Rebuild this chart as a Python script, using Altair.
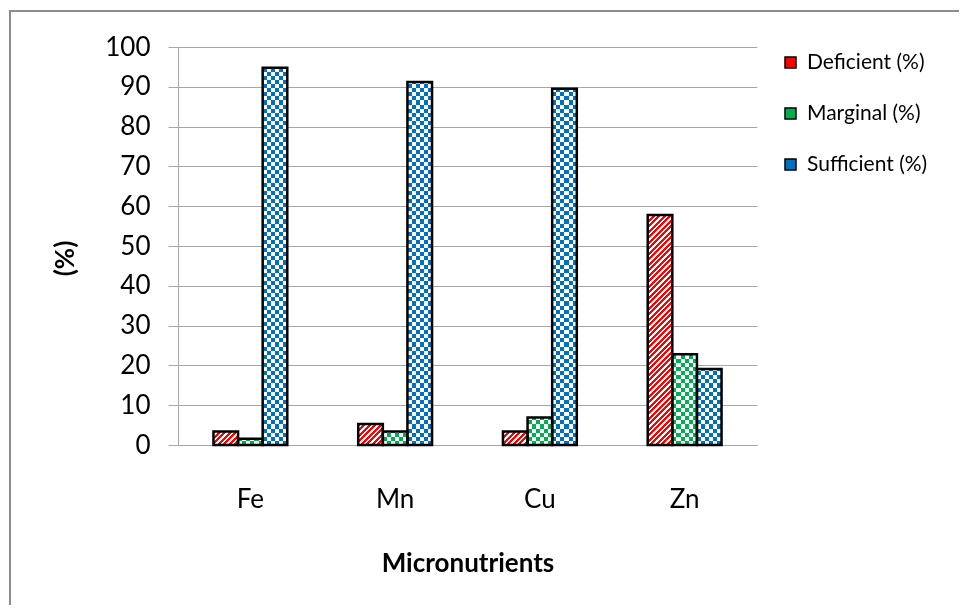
import math
import altair as alt
import pandas as pd

# ---------------- data ----------------
categories = ["Fe", "Mn", "Cu", "Zn"]
series = ["Deficient (%)", "Marginal (%)", "Sufficient (%)"]
deficient = [3.4, 5.3, 3.4, 57.8]
marginal = [1.6, 3.4, 6.9, 22.8]
sufficient = [94.8, 91.2, 89.5, 19.1]
y_ticks = list(range(0, 101, 10))

series_values = dict(zip(series, [deficient, marginal, sufficient]))
df = pd.DataFrame([
    {"nutrient": c, "status": s, "value": series_values[s][i]}
    for i, c in enumerate(categories) for s in series
])

# ---------------- styling ----------------
PLOT_W, PLOT_H = 579, 398
PAD_INNER = 0.49
BAR_W = PLOT_W / len(categories) * (1 - PAD_INNER) / len(series)
Y_MAX = 100
RED, GREEN, BLUE = "#FF0000", "#00B050", "#0070C0"
SERIES_COLORS = dict(zip(series, [RED, GREEN, BLUE]))
FONT = "Lato"
GRID = "#A6A6A6"


def inv(hexc):
    r, g, b = int(hexc[1:3], 16), int(hexc[3:5], 16), int(hexc[5:7], 16)
    return "#%02X%02X%02X" % (255 - r, 255 - g, 255 - b)


def band_stops(edges, colors):
    stops = []
    for k in range(len(edges) - 1):
        c = colors[k % 2]
        stops.append({"offset": edges[k], "color": c})
        stops.append({"offset": edges[k + 1], "color": c})
    return stops


CELL = BAR_W / 6.0


def grad_vertical_stripes(k_color):
    edges = [i / 6.0 for i in range(7)]
    return {"gradient": "linear", "x1": 0, "y1": 0, "x2": 1, "y2": 0,
            "stops": band_stops(edges, ["black", k_color])}


def grad_horizontal_stripes(k_color, h):
    n = max(1, math.ceil(h / CELL))
    edges = [min(1.0, j * CELL / h) for j in range(n + 1)]
    return {"gradient": "linear", "x1": 0, "y1": 1, "x2": 0, "y2": 0,
            "stops": band_stops(edges, ["black", k_color])}


def grad_diag(h, red_w=3.0, white_w=2.5):
    # "/" stripes drawn with a linear gradient in bounding-box units
    w = BAR_W
    s = max(1.0, w * (w + h) / (w * w + h * h))
    k = w / (s * (w * w + h * h))
    edges = [0.0]
    d = 0.0
    m = 0
    while d < w + h:
        d += red_w if m % 2 == 0 else white_w
        edges.append(min(1.0, d * k))
        m += 1
    return {"gradient": "linear", "x1": 0, "y1": 0, "x2": s, "y2": s * h / w,
            "stops": band_stops(edges, [RED, "#FFFFFF"])}


# ---------------- encodings ----------------
x_enc = alt.X(
    "nutrient:N", sort=categories, title="Micronutrients",
    scale=alt.Scale(paddingInner=PAD_INNER, paddingOuter=PAD_INNER / 2),
    axis=alt.Axis(labelAngle=0, ticks=False, grid=False, labelPadding=41,
                  domainColor=GRID, domainWidth=1,
                  titleY=126, titleX=PLOT_W / 2, titleBaseline="alphabetic"),
)
xo_enc = alt.XOffset("status:N", sort=series,
                     scale=alt.Scale(paddingInner=0, paddingOuter=0))
y_enc = alt.Y(
    "value:Q", title="(%)",
    scale=alt.Scale(domain=[0, Y_MAX], nice=False),
    axis=alt.Axis(values=y_ticks, tickSize=10, labelPadding=18, grid=True,
                  domainColor=GRID, tickColor=GRID, gridColor=GRID,
                  titleX=-113, titleY=211, titleAlign="center",
                  titleBaseline="middle", titleAngle=270),
)

base = alt.Chart(df).encode(x=x_enc, xOffset=xo_enc, y=y_enc)

frame = alt.Chart(pd.DataFrame({"k": [0]})).mark_rect(
    filled=False, stroke="#8C8C8C", strokeWidth=2
).encode(x=alt.value(-168), x2=alt.value(900), y=alt.value(-36), y2=alt.value(700))

legend_layer = base.mark_bar().encode(
    color=alt.Color(
        "status:N", sort=series,
        scale=alt.Scale(domain=series, range=[RED, GREEN, BLUE]),
        legend=alt.Legend(title=None, orient="none", legendX=602, legendY=5,
                          symbolType="square", symbolSize=121,
                          symbolStrokeColor="black", symbolStrokeWidth=1.5,
                          symbolOpacity=1, labelFontSize=21, labelFont=FONT,
                          labelColor="black", labelOffset=6, rowPadding=29,
                          padding=0),
    )
)

layers = [frame, legend_layer]

# red diagonal hatch
for i, c in enumerate(categories):
    h = deficient[i] / Y_MAX * PLOT_H
    layers.append(
        base.transform_filter((alt.datum.nutrient == c) & (alt.datum.status == series[0]))
        .mark_bar(fill=grad_diag(h))
    )

# checker patterns (green, blue) via XOR of stripes with difference blending
for s in series[1:]:
    K = inv(SERIES_COLORS[s])
    layers.append(
        base.transform_filter(alt.datum.status == s)
        .mark_bar(fill=grad_vertical_stripes(K))
    )
for s in series[1:]:
    K = inv(SERIES_COLORS[s])
    for i, c in enumerate(categories):
        h = series_values[s][i] / Y_MAX * PLOT_H
        layers.append(
            base.transform_filter((alt.datum.nutrient == c) & (alt.datum.status == s))
            .mark_bar(fill=grad_horizontal_stripes(K, h), blend="difference")
        )
layers.append(
    base.transform_filter(alt.datum.status != series[0])
    .mark_bar(fill="#FFFFFF", blend="difference")
)
layers.append(base.mark_bar(filled=False, stroke="black", strokeWidth=2.5))

chart = alt.layer(*layers).properties(
    width=PLOT_W, height=PLOT_H,
    autosize=alt.AutoSizeParams(type="none"),
    padding={"left": 170, "top": 39, "right": 202, "bottom": 160},
).configure_axis(
    labelFont=FONT, titleFont=FONT, labelColor="black", titleColor="black",
    labelFontSize=26, titleFontSize=26, titleFontWeight="bold",
).configure_view(stroke=None)

chart.save("out.html", embed_options={"renderer": "svg", "actions": False})
